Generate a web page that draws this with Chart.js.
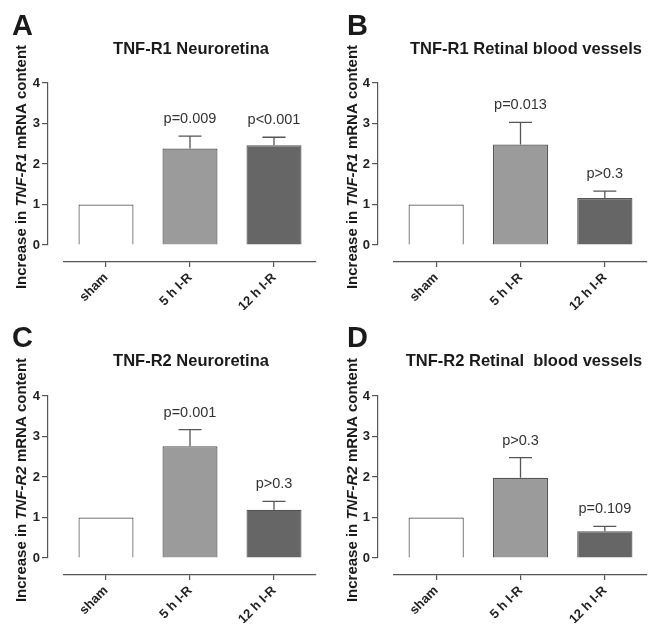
<!DOCTYPE html>
<html><head><meta charset="utf-8">
<script src="https://cdn.jsdelivr.net/npm/chart.js@4.4.0/dist/chart.umd.min.js"></script>
<style>
html,body{margin:0;padding:0;background:#fff;}
#wrap{position:relative;width:649px;height:626px;}
canvas{position:absolute;}
</style></head><body>
<div id="wrap">
<canvas id="cA" width="325" height="313" style="left:0;top:0"></canvas>
<canvas id="cB" width="324" height="313" style="left:325px;top:0"></canvas>
<canvas id="cC" width="325" height="313" style="left:0;top:313px"></canvas>
<canvas id="cD" width="324" height="313" style="left:325px;top:313px"></canvas>
</div>
<script>
const categories = ['sham', '5 h I-R', '12 h I-R'];
const yTicks = [0, 1, 2, 3, 4];

const meansA = [1, 2.38, 2.46];
const semA   = [0, 0.31, 0.20];
const pA     = ['', 'p=0.009', 'p<0.001'];

const meansB = [1, 2.48, 1.16];
const semB   = [0, 0.55, 0.17];
const pB     = ['', 'p=0.013', 'p>0.3'];

const meansC = [1, 2.76, 1.19];
const semC   = [0, 0.41, 0.21];
const pC     = ['', 'p=0.001', 'p>0.3'];

const meansD = [1, 1.98, 0.66];
const semD   = [0, 0.50, 0.12];
const pD     = ['', 'p>0.3', 'p=0.109'];

const titles = ['TNF-R1 Neuroretina', 'TNF-R1 Retinal blood vessels', 'TNF-R2 Neuroretina', 'TNF-R2 Retinal  blood vessels'];
const letters = ['A', 'B', 'C', 'D'];
const genes = ['TNF-R1', 'TNF-R1', 'TNF-R2', 'TNF-R2'];

const barColors = ['#ffffff', '#9b9b9b', '#666666'];
const FONT = '"Liberation Sans", Arial, Helvetica, sans-serif';
const AXIS = '#555555';

const decor = {
  id: 'decor',
  afterDatasetsDraw(chart, args, o) {
    const ctx = chart.ctx, x = chart.scales.x, y = chart.scales.y;
    ctx.save();
    // error bars (upper only)
    ctx.strokeStyle = AXIS; ctx.lineWidth = 1.3;
    o.means.forEach((m, i) => {
      if (!o.sems[i]) return;
      const px = x.getPixelForValue(i);
      const y0 = y.getPixelForValue(m), y1 = y.getPixelForValue(m + o.sems[i]);
      ctx.beginPath();
      ctx.moveTo(px, y0); ctx.lineTo(px, y1);
      ctx.moveTo(px - 11.5, y1); ctx.lineTo(px + 11.5, y1);
      ctx.stroke();
    });
    // p values
    ctx.fillStyle = '#333'; ctx.font = '14.5px ' + FONT;
    ctx.textAlign = 'center'; ctx.textBaseline = 'alphabetic';
    o.pvals.forEach((p, i) => {
      if (!p) return;
      const px = x.getPixelForValue(i);
      const top = y.getPixelForValue(o.means[i] + o.sems[i]);
      ctx.fillText(p, px, top - 13);
    });
    // title
    ctx.fillStyle = '#1a1a1a';
    ctx.font = 'bold 16.5px ' + FONT;
    ctx.fillText(o.title, o.titleX, o.titleY);
    // panel letter
    ctx.textAlign = 'left';
    ctx.font = 'bold 29px ' + FONT;
    ctx.fillText(o.letter, o.letterX, o.letterY);
    // y axis label with italic gene name
    const segs = [['Increase in ', 'bold'], [o.gene, 'italic bold'], [' mRNA content', 'bold']];
    ctx.translate(o.labelX, o.labelY);
    ctx.rotate(-Math.PI / 2);
    ctx.textBaseline = 'middle';
    let total = 0;
    segs.forEach(s => { ctx.font = s[1] + ' 15px ' + FONT; total += ctx.measureText(s[0]).width; });
    let cx = -total / 2;
    segs.forEach(s => { ctx.font = s[1] + ' 15px ' + FONT; ctx.fillText(s[0], cx, 0); cx += ctx.measureText(s[0]).width; });
    ctx.restore();
  }
};

function makePanel(id, means, sems, pvals, deco, geom) {
  return new Chart(document.getElementById(id), {
    type: 'bar',
    data: {
      labels: categories,
      datasets: [{
        data: means,
        backgroundColor: barColors,
        borderColor: AXIS,
        borderWidth: 1.2,
        barPercentage: 0.655,
        categoryPercentage: 1
      }]
    },
    options: {
      responsive: false,
      animation: false,
      events: [],
      layout: { padding: { left: geom.padL, right: geom.padR, top: geom.padT, bottom: geom.padB } },
      plugins: {
        legend: { display: false },
        tooltip: { enabled: false },
        title: { display: false },
        decor: Object.assign({}, deco, { means: means, sems: sems, pvals: pvals })
      },
      scales: {
        x: {
          type: 'category', position: 'bottom', weight: 1, offset: true,
          grid: { display: true, drawOnChartArea: false, offset: false, tickLength: 5, color: AXIS, lineWidth: 1.2 },
          border: { display: true, color: AXIS, width: 1.2 },
          ticks: { minRotation: 45, maxRotation: 45, padding: 3, color: '#222', font: { family: FONT, size: 13, weight: 'bold' } },
          afterFit(s) { s.height = 48; }
        },
        xPad: {
          type: 'category', position: 'bottom', weight: 0,
          grid: { display: false }, border: { display: false }, ticks: { display: false },
          afterFit(s) { s.height = 17; }
        },
        y: {
          type: 'linear', position: 'left', weight: 1, min: 0, max: 4,
          afterBuildTicks(s) { s.ticks = yTicks.map(v => ({ value: v })); },
          grid: { display: true, drawOnChartArea: false, tickLength: 6, color: AXIS, lineWidth: 1.2 },
          border: { display: true, color: AXIS, width: 1.2 },
          ticks: { padding: 2, color: '#222', font: { family: FONT, size: 13, weight: 'bold' } },
          afterFit(s) { s.width = 18; }
        },
        yPad: {
          type: 'linear', position: 'left', weight: 0,
          grid: { display: false }, border: { display: false }, ticks: { display: false },
          afterFit(s) { s.width = 16; }
        }
      }
    },
    plugins: [decor]
  });
}

const geomLeft  = { padL: 30, padR: 9, padT: 83, padB: 3 };
const geomRight = { padL: 35, padR: 2, padT: 83, padB: 3 };

makePanel('cA', meansA, semA, pA,
  { title: titles[0], titleX: 191, titleY: 54, letter: letters[0], letterX: 12, letterY: 35, gene: genes[0], labelX: 22, labelY: 167 }, geomLeft);
makePanel('cB', meansB, semB, pB,
  { title: titles[1], titleX: 201, titleY: 54, letter: letters[1], letterX: 22, letterY: 35, gene: genes[1], labelX: 28, labelY: 167 }, geomRight);
makePanel('cC', meansC, semC, pC,
  { title: titles[2], titleX: 191, titleY: 53, letter: letters[2], letterX: 12, letterY: 34, gene: genes[2], labelX: 22, labelY: 167 }, geomLeft);
makePanel('cD', meansD, semD, pD,
  { title: titles[3], titleX: 199, titleY: 53, letter: letters[3], letterX: 22, letterY: 34, gene: genes[3], labelX: 28, labelY: 167 }, geomRight);
</script>
</body></html>
